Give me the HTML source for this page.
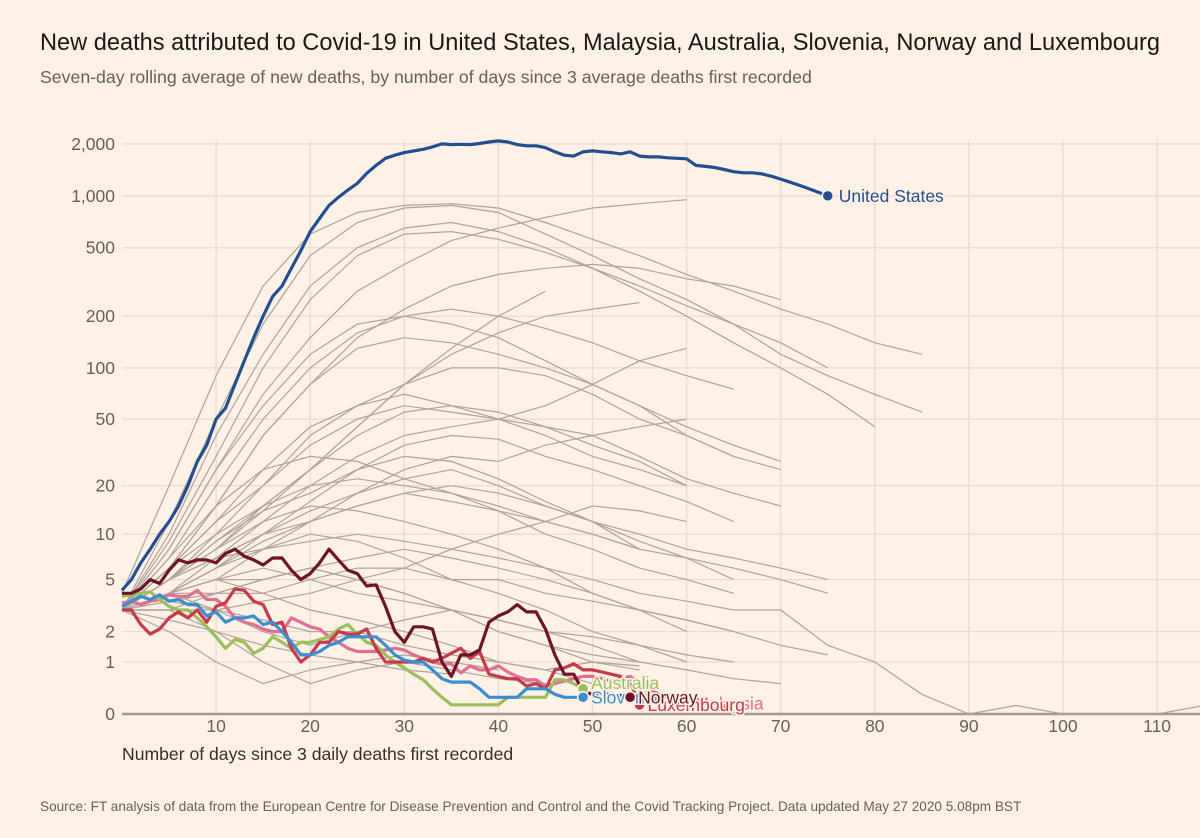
<!DOCTYPE html>
<html><head><meta charset="utf-8">
<style>
body{margin:0;background:#fff1e5;font-family:"Liberation Sans",sans-serif;}
#wrap{position:relative;width:1200px;height:838px;overflow:hidden;background:#fff1e5;}
.t{position:absolute;white-space:nowrap;}
</style></head>
<body>
<div id="wrap">
<div class="t" style="left:40px;top:30px;font-size:23.6px;color:#1a1816;">New deaths attributed to Covid-19 in United States, Malaysia, Australia, Slovenia, Norway and Luxembourg</div>
<div class="t" style="left:40px;top:67px;font-size:17.7px;color:#66605c;">Seven-day rolling average of new deaths, by number of days since 3 average deaths first recorded</div>
<svg id="chart" width="1200" height="838" style="position:absolute;left:0;top:0"></svg>
<div class="t" style="left:122px;top:744px;font-size:17.6px;color:#33302e;">Number of days since 3 daily deaths first recorded</div>
<div class="t" style="left:40px;top:799px;font-size:13.6px;color:#66605c;">Source: FT analysis of data from the European Centre for Disease Prevention and Control and the Covid Tracking Project. Data updated May 27 2020 5.08pm BST</div>
</div>
<script>
const yTicks=[0,1,2,5,10,20,50,100,200,500,1000,2000];
const yTickLabels=["0","1","2","5","10","20","50","100","200","500","1,000","2,000"];
const xTicks=[10,20,30,40,50,60,70,80,90,100,110];
const usValues=[4.2,5,6.5,8,10,12,15,20,28,35,50,58,80,110,150,200,260,300,380,480,620,740,880,980,1080,1180,1350,1500,1650,1720,1780,1820,1860,1920,2000,1980,1990,1980,2010,2050,2080,2050,1980,1950,1950,1900,1800,1720,1700,1800,1820,1800,1780,1750,1800,1700,1680,1680,1660,1650,1640,1500,1480,1460,1420,1380,1360,1360,1340,1300,1250,1200,1150,1100,1050,1000];
const norwayValues=[4,4,4.3,5,4.7,5.8,6.8,6.5,6.8,6.8,6.5,7.5,8,7.2,6.8,6.3,7,7,5.8,5,5.5,6.5,8,6.8,5.8,5.5,4.5,4.6,3.2,2,1.6,2.2,2.2,2.1,1.0,0.65,1.2,1.2,1.35,2.4,2.7,2.9,3.3,2.9,2.9,2.1,1.2,0.7,0.7,0.35,0.3,0.3,0.3,0.28,0.25];
const luxValues=[3,3,2.3,1.9,2.1,2.6,2.9,2.6,3.0,2.4,3.2,3.4,4.3,4.2,3.5,3.3,2.3,2.4,1.4,1.0,1.2,1.6,1.6,2.0,1.9,1.9,2.1,1.4,1.0,1.0,1.0,1.0,1.1,1.0,1.1,1.25,1.4,1.1,1.3,0.7,0.65,0.6,0.6,0.45,0.5,0.4,0.8,0.85,0.95,0.8,0.8,0.75,0.7,0.65,0.55,0.13];
const sloValues=[3.2,3.5,3.8,3.6,3.9,3.5,3.6,3.3,3.3,2.7,2.9,2.4,2.6,2.6,2.7,2.3,2.4,2.0,1.6,1.2,1.2,1.3,1.5,1.6,1.8,1.8,1.8,1.8,1.5,1.2,1.05,1.0,1.0,0.8,0.6,0.53,0.53,0.53,0.4,0.25,0.25,0.25,0.25,0.4,0.4,0.4,0.3,0.25,0.25,0.25];
const ausValues=[3.8,3.9,4.0,4.1,3.6,3.2,3.0,3.0,2.6,2.2,1.8,1.4,1.7,1.6,1.25,1.4,1.8,1.6,1.4,1.6,1.6,1.7,1.8,2.1,2.3,1.9,1.6,1.5,1.2,1.0,0.85,0.7,0.58,0.4,0.25,0.13,0.13,0.13,0.13,0.13,0.13,0.25,0.25,0.25,0.25,0.25,0.58,0.58,0.5,0.4];
const malValues=[3.4,3.5,3.3,3.5,3.6,3.9,3.8,3.8,4.2,3.6,3.6,3.2,2.6,2.4,2.3,2.1,2.0,2.0,2.6,2.4,2.2,2.1,1.8,1.6,1.4,1.3,1.3,1.3,1.35,1.4,1.35,1.2,1.1,1.0,0.95,0.95,0.73,0.9,0.8,0.8,0.9,0.75,0.65,0.58,0.58,0.45,0.5,0.55,0.6,0.65,0.65,0.6,0.55,0.6,0.65,0.5,0.4,0.3,0.25,0.2,0.15];
// grey series, one value every 5 days from day 0
const greyStep=5;
const greySeries=[
[4,20,90,300,600,800,880,900,850,700,560,450,350,280,220,180,140,120],
[3,12,50,180,450,700,850,880,800,600,450,330,250,180,120,90,70,55],
[3,8,25,70,150,280,400,550,650,750,850,900,950],
[3,10,40,120,300,500,650,700,620,500,380,280,200,140,100,70,45],
[3,9,30,100,250,450,600,620,560,470,380,300,230,180,140,100],
[3,6,15,40,80,150,220,300,350,380,400,380,330,300,250],
[3,7,20,50,100,160,200,220,200,170,140,110,90,75],
[3,5,9,15,25,45,80,120,160,200,220,240],
[3,5,8,14,25,45,80,130,200,280],
[3,6,15,40,80,130,150,140,120,100,80,60,45,35,28],
[3,5,10,20,40,60,80,100,100,90,70,50,40,30,25],
[3,4,7,12,20,30,40,45,50,60,80,110,130],
[3,5,8,15,25,40,55,60,55,45,35,28,20],
[3,4,6,10,16,25,35,40,38,30,25,20,16,12],
[3,4,5,8,12,18,25,30,28,35,40,45,50],
[3,5,7,10,12,15,18,20,18,15,12,10,8,7,6,5],
[3,5,7,8,9,10,9,8,7,6,5,4,3.5,3,3,1.5,1,0.3,0,0.12,0,0,0,0.12],
[3,4,5,4,3,2.5,2,1.5,1,0.8,0.5],
[3,2.5,2,1.5,1.2,1,0.8,0.7],
[3,3.5,4,5,6,5,4,3,2,1.5,1,0.8],
[3,4,6,8,10,9,7,5,4,3,2,1.5,1],
[3,5,8,12,15,14,12,10,8,6,4,3,2],
[3,4,5,6,5,4,3.5,3,2.5,2,1.8,1.5,1.2,1],
[3,3,2,1,0.5,0.8,1,0.8,0.6,0.5],
[3,3.5,3,2.5,2,2,1.5,1.2,1.0,0.8,1.0,0.9],
[3,6,10,15,20,22,20,18,15,12,10,8],
[3,5,9,14,18,25,30,28,22,16,12,9,7,5],
[3,4,4,5,6,7,8,7,6,5,4,3,2.5,2],
[3,3,3,3.5,4,5,6,8,10,12,15,14,12],
[3,4,3,2,1.5,2,2.5,3,2.5,2,1.5,1],
[3,3,4,4,5,6,6,5,5,4,3.5,3,2.5,2,1.5,1.2],
[3,7,15,25,30,28,22,18,14,10,8,6,5,4],
[3,5,7,10,14,18,22,25,20,15,12,8],
[3,2,1,0.5,0.8,1,1.2,1,0.8],
[3,4,6,9,12,15,18,16,14,12,10,8,7,6,5,4],
[3,4,5,5,6,5,4,3,2,1.5,1.2,1,0.8,0.6,0.5],
[3,6,12,20,35,50,60,55,50,45,40,30,22,18,15],
[3,8,25,60,120,180,200,180,150,110,80,60,40,30],
[3,6,12,25,45,60,70,60,50,40,30,25,20]
];
const NS='http://www.w3.org/2000/svg';
const svg=document.getElementById('chart');
function xs(d){return 122+d*9.41;}
function ys(v){return 714-172.7*Math.log10(v+1);}
function mk(tag,attrs,parent){const e=document.createElementNS(NS,tag);for(const k in attrs)e.setAttribute(k,attrs[k]);(parent||svg).appendChild(e);return e;}
yTicks.forEach((v,i)=>{
  if(v>0){const g=mk('line',{x1:122,x2:1200,y1:ys(v),y2:ys(v),stroke:'#e9dccf','stroke-width':1.3});
  
  }
  const t=mk('text',{x:115,y:ys(v)+6,'text-anchor':'end','font-size':17.5,fill:'#66605c','font-family':'Liberation Sans, sans-serif'});
  t.textContent=yTickLabels[i];
  
  
});
xTicks.forEach(d=>{
  const g=mk('line',{x1:xs(d),x2:xs(d),y1:140,y2:714,stroke:'#e9dccf','stroke-width':1.3});
  
  
  const t=mk('text',{x:xs(d),y:732,'text-anchor':'middle','font-size':17.5,fill:'#66605c','font-family':'Liberation Sans, sans-serif'});
  t.textContent=d;
  
  
});
const base=mk('line',{x1:122,x2:1200,y1:714,y2:714,stroke:'#a39a91','stroke-width':2.5});


function pathFrom(vals,step){return vals.map((v,i)=>(i?'L':'M')+xs(i*step).toFixed(1)+','+ys(v).toFixed(1)).join('');}
greySeries.forEach(s=>{
  const p=mk('path',{d:pathFrom(s,greyStep),fill:'none',stroke:'#aca49d','stroke-width':1.2});
  
  
});
const main=[
 {vals:malValues,c:'#e06f93',n:'malaysia',label:'Malaysia',dx:8,dy:6},
 {vals:ausValues,c:'#9bbf5e',n:'australia',label:'Australia',dx:8,dy:0},
 {vals:luxValues,c:'#c63a4a',n:'luxembourg',label:'Luxembourg',dx:8,dy:6},
 {vals:sloValues,c:'#3b8fd0',n:'slovenia',label:'Slovenia',dx:8,dy:6},
 {vals:norwayValues,c:'#6e1427',n:'norway',label:'Norway',dx:8,dy:6},
 {vals:usValues,c:'#234f91',n:'united-states',label:'United States',dx:11,dy:6}
];
main.forEach(m=>{
  const p=mk('path',{d:pathFrom(m.vals,1),fill:'none',stroke:m.c,'stroke-width':3.2,'stroke-linejoin':'round'});
  
  
});
main.forEach(m=>{
  const i=m.vals.length-1,x=xs(i),y=ys(m.vals[i]);
  const c=mk('circle',{cx:x,cy:y,r:5.5,fill:m.c,stroke:'#fff1e5','stroke-width':1.5});
  
  
  const t=mk('text',{x:x+m.dx,y:y+m.dy,'font-size':17.5,fill:m.c,'font-family':'Liberation Sans, sans-serif',stroke:'#fff1e5','stroke-width':3,'paint-order':'stroke'});
  t.textContent=m.label;
  
  
});
</script>
</body></html>
